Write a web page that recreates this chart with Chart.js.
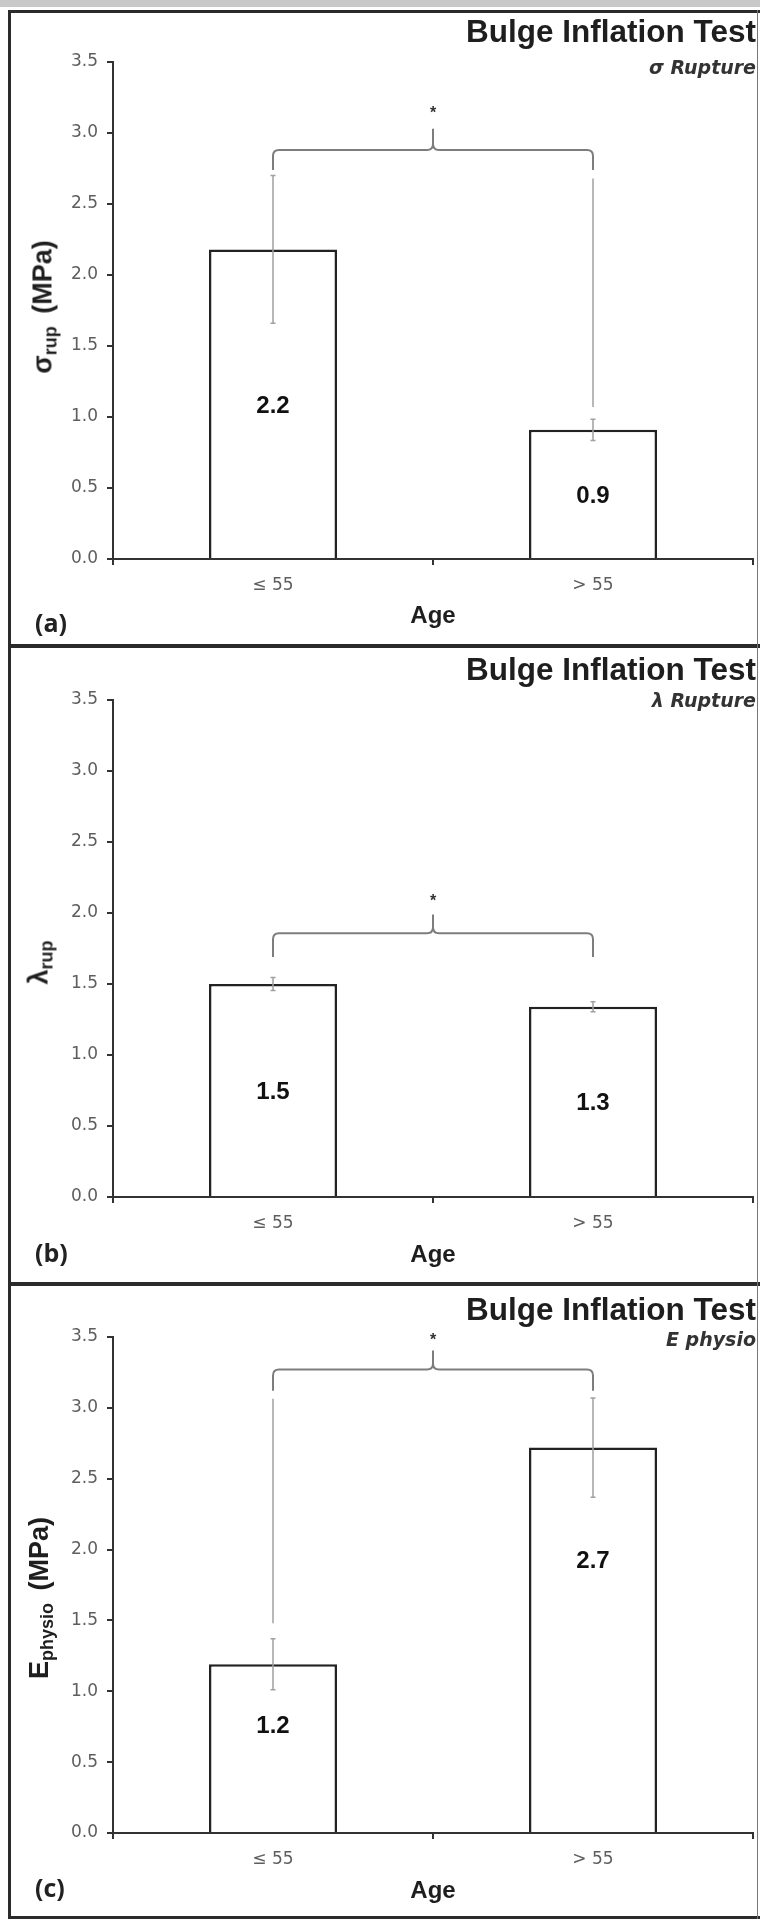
<!DOCTYPE html>
<html>
<head>
<meta charset="utf-8">
<script src="https://cdn.jsdelivr.net/npm/chart.js@4.4.0/dist/chart.umd.min.js"></script>
<style>
  html, body { margin: 0; padding: 0; background: #fff; }
  body { width: 760px; height: 1921px; position: relative; overflow: hidden; font-family: "Liberation Sans", Arial, sans-serif; }
  .band { position: absolute; left: 0; top: 0; width: 760px; height: 7px; background: #c9c9c9; }
  .rule { position: absolute; background: #2b2b2b; }
  .panel { position: absolute; left: 11px; width: 746px; }
  .title { position: absolute; right: 4px; font: bold 31.5px/31.5px "Liberation Sans", Arial, sans-serif; color: #1e1e1e; white-space: nowrap; }
  .sub { position: absolute; right: 4px; font: italic bold 19px/19px "DejaVu Sans", sans-serif; color: #333; white-space: nowrap; }
  .tag { position: absolute; left: 35px; font: bold 25px/25px "Open Sans", sans-serif; color: #222; }
  .ytitle { position: absolute; font: bold 27px/27px "Liberation Sans", Arial, sans-serif; color: #1e1e1e;
            transform: translate(-50%, -50%) rotate(-90deg); white-space: nowrap; }
  .ytitle sub { font-size: 18px; position: relative; top: 5px; vertical-align: baseline; line-height: 0; margin-right: 5px; }
</style>
</head>
<body>
<div class="band"></div>
<!-- frame -->
<div class="rule" style="left:8px; top:10px; width:3px; height:1909px;"></div>
<div class="rule" style="left:8px; top:10px; width:752px; height:3px;"></div>
<div class="rule" style="left:8px; top:644px; width:752px; height:4px;"></div>
<div class="rule" style="left:8px; top:1282px; width:752px; height:4px;"></div>
<div class="rule" style="left:8px; top:1916px; width:752px; height:3px;"></div>
<div class="rule" style="left:757px; top:10px; width:1px; height:1909px; background:#777;"></div>

<div class="panel" style="top:13px; height:631px;"><canvas id="chartA" width="746" height="631"></canvas></div>
<div class="panel" style="top:648px; height:634px;"><canvas id="chartB" width="746" height="634"></canvas></div>
<div class="panel" style="top:1286px; height:630px;"><canvas id="chartC" width="746" height="630"></canvas></div>

<div class="title" style="top:16.3px;">Bulge Inflation Test</div>
<div class="sub" style="top:58px;">σ Rupture</div>
<div class="tag" style="top:610px;">(a)</div>
<div class="ytitle" style="left:43px; top:307px;">σ<sub>rup</sub> (MPa)</div>

<div class="title" style="top:654.3px;">Bulge Inflation Test</div>
<div class="sub" style="top:691px;">λ Rupture</div>
<div class="tag" style="top:1240px;">(b)</div>
<div class="ytitle" style="left:39px; top:960px;">λ<sub>rup</sub></div>

<div class="title" style="top:1294.3px;">Bulge Inflation Test</div>
<div class="sub" style="top:1330px;">E physio</div>
<div class="tag" style="top:1875px;">(c)</div>
<div class="ytitle" style="left:39px; top:1598px;">E<sub>physio</sub> (MPa)</div>

<script>
// Categories and y-axis ticks shared by the three panels
const categories = ['≤ 55', '> 55'];
const yTickValues = [0.0, 0.5, 1.0, 1.5, 2.0, 2.5, 3.0, 3.5];

// (a) rupture stress, MPa
const sigmaRup = [2.18, 0.91];
const sigmaRupErr = [0.52, 0.075];
// (b) rupture stretch
const lambdaRup = [1.50, 1.34];
const lambdaRupErr = [0.045, 0.035];
// (c) physiological modulus, MPa
const ePhysio = [1.19, 2.72];
const ePhysioErr = [0.18, 0.35];

// significance bracket: [level, leg end, peak, asterisk]
const sigmaBracket = [2.88, 2.74, 3.03, 3.17];
const lambdaBracket = [1.857, 1.69, 1.99, 2.11];
const ePhysioBracket = [3.27, 3.12, 3.405, 3.51];

// thin guide lines under the bracket legs: [top, bottom] or null
const sigmaGuides = [null, [2.68, 1.07]];
const lambdaGuides = [null, null];
const ePhysioGuides = [[3.065, 1.48], null];

const FONT = '"Liberation Sans", Arial, sans-serif';
const TICK_FONT = '"DejaVu Sans", sans-serif';

const annotate = {
    id: 'annotate',
    afterDatasetsDraw(chart, args, o) {
        const { ctx, scales: { x, y } } = chart;
        const bars = chart.getDatasetMeta(0).data;
        ctx.save();

        // error bars
        ctx.strokeStyle = '#a0a0a0';
        ctx.lineWidth = 1.5;
        o.values.forEach((v, i) => {
            const px = bars[i].x;
            const top = y.getPixelForValue(v + o.err[i]);
            const bot = y.getPixelForValue(v - o.err[i]);
            ctx.beginPath();
            ctx.moveTo(px, top); ctx.lineTo(px, bot);
            ctx.moveTo(px - 2.5, top); ctx.lineTo(px + 2.5, top);
            ctx.moveTo(px - 2.5, bot); ctx.lineTo(px + 2.5, bot);
            ctx.stroke();
        });

        // guide lines
        o.guides.forEach((g, i) => {
            if (!g) return;
            const px = bars[i].x;
            ctx.beginPath();
            ctx.moveTo(px, y.getPixelForValue(g[0]));
            ctx.lineTo(px, y.getPixelForValue(g[1]));
            ctx.stroke();
        });

        // bracket
        const xl = bars[0].x, xr = bars[1].x, xm = x.getPixelForValue(0.5);
        const yb = y.getPixelForValue(o.bracket[0]);
        const yl = y.getPixelForValue(o.bracket[1]);
        const yp = y.getPixelForValue(o.bracket[2]);
        const r = 6;
        ctx.strokeStyle = '#7d7d7d';
        ctx.lineWidth = 2;
        ctx.beginPath();
        ctx.moveTo(xl, yl);
        ctx.lineTo(xl, yb + r);
        ctx.quadraticCurveTo(xl, yb, xl + r, yb);
        ctx.lineTo(xm - r, yb);
        ctx.quadraticCurveTo(xm, yb, xm, yb - r);
        ctx.lineTo(xm, yp);
        ctx.moveTo(xm, yb - r);
        ctx.quadraticCurveTo(xm, yb, xm + r, yb);
        ctx.lineTo(xr - r, yb);
        ctx.quadraticCurveTo(xr, yb, xr, yb + r);
        ctx.lineTo(xr, yl);
        ctx.stroke();

        // asterisk
        ctx.fillStyle = '#333';
        ctx.font = 'bold 16px ' + FONT;
        ctx.textAlign = 'center';
        ctx.textBaseline = 'alphabetic';
        ctx.fillText('*', xm, y.getPixelForValue(o.bracket[3]) + 9);

        // value labels
        ctx.fillStyle = '#111';
        ctx.font = 'bold 24px ' + FONT;
        ctx.textBaseline = 'middle';
        o.values.forEach((v, i) => {
            const at = o.labelAt ? o.labelAt[i] : v / 2;
            ctx.fillText(v.toFixed(1), bars[i].x, y.getPixelForValue(at) + 2);
        });
        ctx.restore();
    }
};

function makeChart(id, cfg) {
    const axisGrid = { drawOnChartArea: false, color: '#333', lineWidth: 2, tickLength: 6 };
    const axisBorder = { display: true, color: '#333', width: 2 };
    return new Chart(document.getElementById(id), {
        type: 'bar',
        data: {
            labels: categories,
            datasets: [{
                data: cfg.values,
                backgroundColor: '#fff',
                borderColor: '#222',
                borderWidth: 2.5,
                barPercentage: 0.4,
                categoryPercentage: 1
            }]
        },
        options: {
            responsive: false,
            animation: false,
            devicePixelRatio: 1,
            layout: { padding: { top: cfg.padTop, right: 4, left: 0, bottom: 0 } },
            plugins: {
                legend: { display: false },
                tooltip: { enabled: false },
                annotate: {
                    values: cfg.values, err: cfg.err, bracket: cfg.bracket,
                    guides: cfg.guides, labelAt: cfg.labelAt
                }
            },
            scales: {
                x: {
                    grid: axisGrid,
                    border: axisBorder,
                    ticks: { color: '#5e5e5e', font: { size: 17, family: TICK_FONT }, padding: 10 },
                    title: {
                        display: true, text: 'Age', color: '#1e1e1e',
                        font: { size: 24, weight: 'bold', family: FONT },
                        padding: { top: 0, bottom: cfg.agePad }
                    },
                    afterFit: s => { s.height = cfg.xHeight; }
                },
                y: {
                    min: 0, max: 3.5,
                    afterBuildTicks: s => { s.ticks = yTickValues.map(v => ({ value: v })); },
                    grid: axisGrid,
                    border: axisBorder,
                    ticks: { color: '#5e5e5e', font: { size: 17, family: TICK_FONT }, padding: 9, callback: v => v.toFixed(1) },
                    afterFit: s => { s.width = 102; }
                }
            }
        },
        plugins: [annotate]
    });
}

makeChart('chartA', { values: sigmaRup, err: sigmaRupErr, bracket: sigmaBracket, guides: sigmaGuides,
    padTop: 49, xHeight: 85, agePad: 13 });
makeChart('chartB', { values: lambdaRup, err: lambdaRupErr, bracket: lambdaBracket, guides: lambdaGuides,
    padTop: 52, xHeight: 85, agePad: 12 });
makeChart('chartC', { values: ePhysio, err: ePhysioErr, bracket: ePhysioBracket, guides: ePhysioGuides,
    labelAt: [0.77, 1.93], padTop: 51, xHeight: 83, agePad: 10 });
</script>
</body>
</html>
